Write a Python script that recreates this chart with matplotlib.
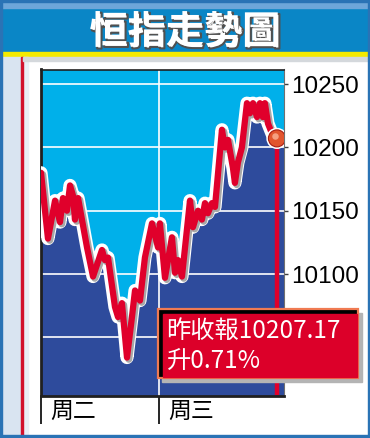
"""
Hang Seng intraday chart (two sessions) - newspaper style.
"""
import numpy as np
import matplotlib
matplotlib.use("Agg")
import matplotlib.pyplot as plt
import matplotlib.patheffects as pe
from matplotlib.patches import Rectangle
from matplotlib.transforms import blended_transform_factory, ScaledTranslation

# ---- data (time in trading days from Tuesday open, index level) ----
t = [0.000, 0.059, 0.119, 0.161, 0.186, 0.220, 0.246, 0.271, 0.288, 0.314,
     0.390, 0.441, 0.517, 0.542, 0.568, 0.627, 0.653, 0.686, 0.729, 0.771,
     0.797, 0.839, 0.881, 0.941, 0.992, 1.008, 1.051, 1.110, 1.136, 1.161,
     1.195, 1.263, 1.288, 1.331, 1.364, 1.390, 1.415, 1.449, 1.475, 1.534,
     1.559, 1.585, 1.627, 1.644, 1.669, 1.703, 1.746, 1.771, 1.797, 1.831,
     1.856, 1.881, 1.898, 1.924, 1.958, 2.000]
price = [10180, 10128, 10158, 10141, 10160, 10150, 10170, 10162, 10143, 10160,
         10121, 10098, 10119, 10111, 10113, 10074, 10066, 10077, 10034, 10066,
         10087, 10079, 10113, 10140, 10121, 10140, 10097, 10129, 10101, 10111,
         10098, 10158, 10137, 10150, 10143, 10156, 10148, 10156, 10153, 10214,
         10200, 10206, 10184, 10172, 10188, 10200, 10235, 10227, 10235, 10224,
         10235, 10224, 10235, 10219, 10211, 10207.17]
day_ticks = [0, 1]
day_labels = ["周二", "周三"]
yticks = [10050, 10100, 10150, 10200, 10250]
ytick_labels = ["", "10100", "10150", "10200", "10250"]  # 10050 sits under the note box
title = "恒指走勢圖"
note = "昨收報10207.17\n升0.71%"

W, H = 370, 438
CYAN = "#00b0ea"
NAVY = "#2e4b9c"
RED = "#e0002b"
CJK = ["Noto Sans CJK TC", "DejaVu Sans"]

fig = plt.figure(figsize=(W / 100, H / 100), dpi=100)
fig.patch.set_facecolor("white")

# background decoration layer, pixel coordinates
bg = fig.add_axes([0, 0, 1, 1], zorder=0)
bg.set_xlim(0, W)
bg.set_ylim(H, 0)
bg.axis("off")
bg.add_patch(Rectangle((0, 0), W, 52, color="#0a86c6"))
bg.add_patch(Rectangle((0, 0), W, 8, color="#6ea6d9"))
bg.add_patch(Rectangle((0, 52), W, 5, color="#f4ea00"))
bg.add_patch(Rectangle((0, 57), 21, H - 57, color="#d9e4f1"))
bg.add_patch(Rectangle((23, 57), 5, H - 57, color="#e9eff7"))
bg.add_patch(Rectangle((21, 57), 2, H - 57, color="#d2122e"))
bg.add_patch(Rectangle((23, 57), W - 23, 4, color="#d4d8dc"))
for rect in [(0, 0, 1.5, H), (W - 2.5, 0, 2.5, H), (0, H - 3, W, 3), (0, 0, W, 1.5)]:
    bg.add_patch(Rectangle(rect[:2], rect[2], rect[3], color="#2a73b5"))
bg.text(185, 32, title, color="white", fontsize=27.5, fontweight="bold",
        family=CJK, ha="center", va="center",
        path_effects=[pe.Stroke(linewidth=1.5, foreground="#505050", offset=(1.2, -1.2)),
                      pe.Normal()])

# main chart
x0, x1, y0, y1 = 41, 284, 69.5, 395.5
ax = fig.add_axes([x0 / W, 1 - y1 / H, (x1 - x0) / W, (y1 - y0) / H], zorder=1)
ax.set_facecolor(CYAN)
xmax = 2.06
ax.set_xlim(0, xmax)
ax.set_ylim(10004, 10261.6)

ax.fill_between(np.append(t, xmax), np.append(price, price[-1]), 10004,
                color=NAVY, zorder=1, linewidth=0)
for v in yticks:
    ax.axhline(v, color="white", lw=1.2, zorder=2)
ax.axvline(1.0, color="white", lw=1.2, zorder=2)

ax.vlines(t[-1], 10004, price[-1], color=RED, lw=3.2, zorder=3)
ax.plot(t, price, color=RED, lw=4.5, zorder=4, solid_joinstyle="round",
        solid_capstyle="round",
        path_effects=[pe.Stroke(linewidth=9.5, foreground="white"),
                      pe.Stroke(linewidth=5, foreground="#a8a8a8", offset=(1.3, -1.3)),
                      pe.Normal()])
ax.scatter([t[-1]], [price[-1]], s=150, color="#e2552e", edgecolors="#a81c10",
           linewidths=0.8, zorder=5,
           path_effects=[pe.Stroke(linewidth=3, foreground="white"), pe.Normal()])
ax.scatter([t[-1] - 0.014], [price[-1] + 1.8], s=22, color="#f5a080",
           linewidths=0, zorder=6)

ax.yaxis.tick_right()
ax.set_yticks(yticks)
ax.set_yticklabels(ytick_labels, family="Liberation Sans", fontsize=17.5)
ax.tick_params(axis="y", length=3, width=1, color="#404040", pad=2)
ax.set_xticks(day_ticks)
ax.set_xticklabels([])
ax.tick_params(axis="x", length=20, width=1.2, color="black", direction="out")
for side, lw, col in [("left", 2, "#202020"), ("top", 1.2, "#202020"),
                      ("bottom", 2, "#202020"), ("right", 0.8, "#707070")]:
    ax.spines[side].set_linewidth(lw)
    ax.spines[side].set_color(col)

tr = blended_transform_factory(ax.transData, ax.transAxes) + \
    ScaledTranslation(9 / 100, -16 / 100, fig.dpi_scale_trans)
for d, lab in zip(day_ticks, day_labels):
    ax.text(d, 0, lab, transform=tr, family=CJK, fontsize=16.5,
            ha="left", va="center", color="black")

# annotation box layer
fg = fig.add_axes([0, 0, 1, 1], zorder=3)
fg.set_xlim(0, W)
fg.set_ylim(H, 0)
fg.axis("off")
bx, by, bw, bh = 158, 309, 200, 69
fg.add_patch(Rectangle((bx + 4, by + 4), bw, bh, color="#b4b4b4"))
fg.add_patch(Rectangle((bx, by), bw, bh, facecolor="black", edgecolor="#f07a52", lw=1.6))
fg.add_patch(Rectangle((bx + 5, by + 5), bw - 6.5, bh - 6.5, color="#dc0029"))
fg.text(bx + 8, by + 37, note, color="white", family=CJK, fontsize=17.5,
        ha="left", va="center", linespacing=1.2)

fig.savefig("out.png", dpi=100)
